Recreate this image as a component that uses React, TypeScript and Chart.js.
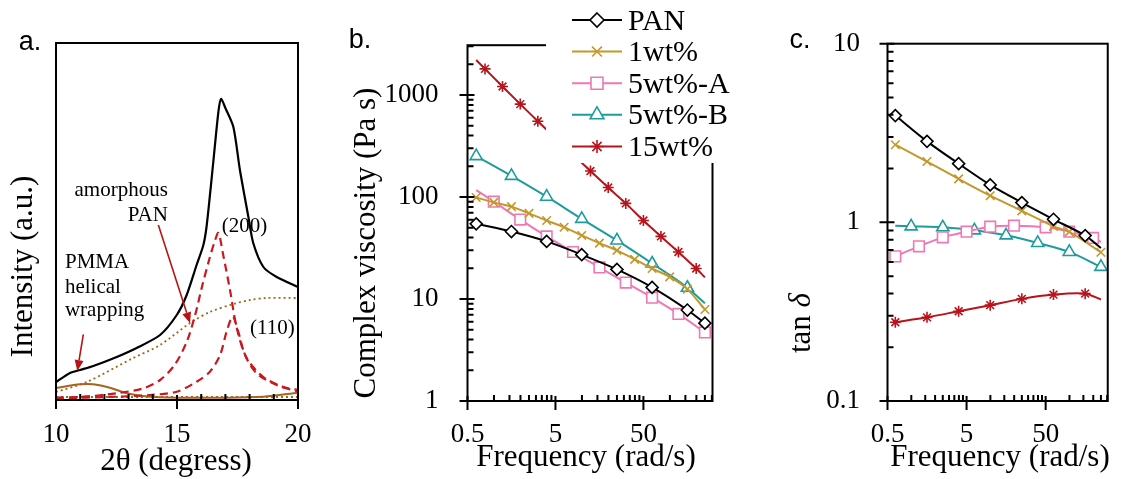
import React, { useEffect, useRef } from "react";
import { Chart, registerables } from "chart.js";

Chart.register(...registerables);

const W = 1125;
const H = 479;
const SERIF = '"Liberation Serif", "Times New Roman", serif';
const SANS = '"Liberation Sans", Arial, sans-serif';

// ================= Panel a : XRD =================
const MEAS_2THETA = [10.0, 10.58, 10.99, 11.54, 12.51, 13.33, 14.3, 14.99, 15.4, 15.81, 16.09, 16.23, 16.5, 16.71, 16.82, 17.0, 17.33, 17.6, 17.95, 18.15, 18.57, 19.12, 20.0];
const MEAS_INT = [18, 27, 30, 34, 43, 52, 65, 85, 105, 135, 155, 175, 238, 288, 301, 292, 273, 230, 183, 157, 133, 123, 113];
const AMORPH_2THETA = [10.0, 11.27, 13.19, 14.3, 15.54, 16.36, 17.33, 18.02, 18.71, 20.0];
const AMORPH_INT = [8, 18, 42, 55, 77, 88, 96, 100, 102, 102];
const BASE_2THETA = [10.0, 20.0];
const BASE_INT = [3, 3];
const PMMA_2THETA = [10.0, 11.0, 11.54, 12.23, 12.92, 13.88, 14.99, 16.78, 18.57, 20.0];
const PMMA_INT = [12, 15.7, 15.7, 12.3, 6.7, 3.3, 2.3, 2.3, 3.3, 7.3];
const P200_2THETA = [10.0, 11.13, 12.51, 13.61, 14.3, 14.9, 15.4, 15.75, 16.05, 16.35, 16.55, 16.71, 16.91, 17.19, 17.47, 17.88, 18.57, 19.4, 20.0];
const P200_INT = [2.3, 3.3, 6.7, 11.7, 20, 35, 58, 85, 115, 142, 158, 167, 145, 110, 72, 42, 23, 13, 10];
const P110_2THETA = [10.0, 12.51, 13.88, 14.99, 15.81, 16.36, 16.78, 17.05, 17.3, 17.53, 17.81, 18.29, 19.12, 20.0];
const P110_INT = [1.7, 3.3, 5, 8.3, 18.3, 28.3, 45, 68.3, 83.3, 68.3, 45, 26.7, 15, 8.3];
const XRD_TICKS = [10, 11, 12, 13, 14, 15, 16, 17, 18, 19, 20];
const XRD_MAJOR = [10, 15, 20];

// ================= Panels b / c : rheology =================
const FREQ = [0.628, 0.791, 0.995, 1.25, 1.58, 1.99, 2.5, 3.15, 3.97, 5.0, 6.28, 7.91, 9.95, 12.5, 15.8, 19.9, 25.0, 31.5, 39.7, 50.0, 62.8, 79.1, 99.5, 125, 158, 199, 250];
const _ = null;
const SERIES = ["PAN", "1wt%", "5wt%-A", "5wt%-B", "15wt%"];

// complex viscosity (Pa s)
const ETA_PAN = [54.6, _, _, _, 45.9, _, _, _, 36.7, _, _, _, 27.2, _, _, _, 19.5, _, _, _, 13.0, _, _, _, 7.8, _, 5.8];
const ETA_1WT = [99, _, 88.6, _, 80.5, _, 69.2, _, 58.8, _, 50.6, _, 42, _, 35.3, _, 30, _, 24.5, _, 19.9, _, 16.5, _, 12.5, _, 7.9];
const ETA_5WT_A = [117, _, 90, _, _, 60.1, _, _, 41.1, _, _, 28.9, _, _, 20.4, _, _, 14.5, _, _, 10.3, _, _, 7.14, _, _, 4.7];
const ETA_5WT_B = [252, _, _, _, 161, _, _, _, 100.7, _, _, _, 61.1, _, _, _, 37.5, _, _, _, 22.3, _, _, _, 12.9, _, 9.08];
const ETA_15WT = [2207, 1803, _, 1213, _, 815, _, 553, _, _, _, _, _, 180, _, 124, _, 86.6, _, 58.8, _, 41.1, _, 28.9, _, 19.9, 16.3];
const ETA_NOMARK = [[], [], [0], [26], [0, 26]];

// tan delta
const TAN_PAN = [3.96, _, _, _, 2.84, _, _, _, 2.13, _, _, _, 1.62, _, _, _, 1.29, _, _, _, 1.04, _, _, _, 0.843, _, 0.719];
const TAN_1WT = [2.72, _, _, _, 2.19, _, _, _, 1.75, _, _, _, 1.41, _, _, _, 1.16, _, _, _, 0.95, _, 0.884, _, _, _, 0.68];
const TAN_5WT_A = [0.645, _, _, 0.734, _, _, 0.824, _, _, 0.887, _, _, 0.946, _, _, 0.958, _, _, _, 0.938, _, _, 0.887, _, _, 0.818, 0.777];
const TAN_5WT_B = [0.958, _, 0.95, _, _, _, 0.938, _, _, _, 0.902, _, _, _, 0.846, _, _, _, 0.767, _, _, _, 0.683, _, _, _, 0.563];
const TAN_15WT = [0.276, _, _, _, 0.294, _, _, _, 0.318, _, _, _, 0.344, _, _, _, 0.373, _, _, _, 0.394, _, _, _, 0.399, _, 0.37];
const TAN_NOMARK = [[26], [], [26], [0], [26]];

const FREQ_TICKS = [0.5, 1, 1.5, 2, 2.5, 3, 3.5, 4, 4.5, 5, 10, 15, 20, 25, 30, 35, 40, 45, 50, 100, 150, 200, 250, 300];
const FREQ_MAJOR = [0.5, 5, 50];
const ETA_TICKS = [1, 2, 3, 4, 5, 6, 7, 8, 9, 10, 20, 30, 40, 50, 60, 70, 80, 90, 100, 200, 300, 400, 500, 600, 700, 800, 900, 1000, 2000, 3000];
const ETA_MAJOR = [1, 10, 100, 1000];
const TAN_TICKS = [0.1, 0.2, 0.3, 0.4, 0.5, 0.6, 0.7, 0.8, 0.9, 1, 2, 3, 4, 5, 6, 7, 8, 9, 10];
const TAN_MAJOR = [0.1, 1, 10];

const COLORS = ["#000000", "#C4982C", "#EE78B4", "#1E9C9C", "#B8141C"];
const STYLES = ["rectRot", "crossRot", "rect", "triangle", "star"];
const RADII = [6, 6, 7.5, 7, 5.5];

// ================= helpers =================
function pairs(xs: number[], ys: (number | null)[]) {
  const out: any[] = [];
  xs.forEach((x, i) => {
    if (ys[i] !== null && ys[i] !== undefined) out.push({ x, y: ys[i], k: i });
  });
  return out;
}

function text(ctx: CanvasRenderingContext2D, s: string, x: number, y: number, font: string, align: CanvasTextAlign = "center", baseline: CanvasTextBaseline = "middle", rot = 0, color = "#000") {
  ctx.save();
  ctx.translate(x, y);
  if (rot) ctx.rotate(rot);
  ctx.font = font;
  ctx.fillStyle = color;
  ctx.textAlign = align;
  ctx.textBaseline = baseline;
  ctx.fillText(s, 0, 0);
  ctx.restore();
}

function drawTicks(chart: any, tx: number[], mx: number[], ty: number[] | null, my: number[]) {
  const { ctx, chartArea: ca, scales } = chart;
  ctx.save();
  ctx.strokeStyle = "#000";
  ctx.lineWidth = 2;
  ctx.beginPath();
  for (const v of tx) {
    const px = scales.x.getPixelForValue(v);
    if (mx.includes(v)) {
      ctx.moveTo(px, ca.bottom - 5);
      ctx.lineTo(px, ca.bottom + 9);
    } else {
      ctx.moveTo(px, ca.bottom - 6);
      ctx.lineTo(px, ca.bottom);
    }
  }
  if (ty) {
    for (const v of ty) {
      const py = scales.y.getPixelForValue(v);
      if (my.includes(v)) {
        ctx.moveTo(ca.left - 8, py);
        ctx.lineTo(ca.left + 7, py);
      } else {
        ctx.moveTo(ca.left, py);
        ctx.lineTo(ca.left + 6, py);
      }
    }
  }
  ctx.stroke();
  ctx.restore();
}

function drawFrame(chart: any) {
  const { ctx, chartArea: ca } = chart;
  ctx.save();
  ctx.strokeStyle = "#000";
  ctx.lineWidth = 2;
  ctx.strokeRect(ca.left, ca.top, ca.right - ca.left, ca.bottom - ca.top);
  ctx.restore();
}

function drawMarker(ctx: CanvasRenderingContext2D, style: string, x: number, y: number, r: number, color: string) {
  ctx.save();
  ctx.strokeStyle = color;
  ctx.fillStyle = "#fff";
  ctx.lineWidth = 1.6;
  ctx.beginPath();
  if (style === "rectRot") {
    ctx.moveTo(x, y - r); ctx.lineTo(x + r, y); ctx.lineTo(x, y + r); ctx.lineTo(x - r, y); ctx.closePath();
    ctx.fill(); ctx.stroke();
  } else if (style === "rect") {
    const s = r * Math.SQRT1_2;
    ctx.rect(x - s, y - s, 2 * s, 2 * s); ctx.fill(); ctx.stroke();
  } else if (style === "triangle") {
    for (let i = 0; i < 3; i++) {
      const a = (i * 2 * Math.PI) / 3;
      const px = x + Math.sin(a) * r, py = y - Math.cos(a) * r;
      if (i === 0) ctx.moveTo(px, py); else ctx.lineTo(px, py);
    }
    ctx.closePath(); ctx.fill(); ctx.stroke();
  } else if (style === "crossRot") {
    const d = r * Math.SQRT1_2;
    ctx.moveTo(x - d, y - d); ctx.lineTo(x + d, y + d); ctx.moveTo(x + d, y - d); ctx.lineTo(x - d, y + d); ctx.stroke();
  } else if (style === "star") {
    const d = r * Math.SQRT1_2;
    ctx.moveTo(x - d, y - d); ctx.lineTo(x + d, y + d); ctx.moveTo(x + d, y - d); ctx.lineTo(x - d, y + d);
    ctx.moveTo(x, y - r); ctx.lineTo(x, y + r); ctx.moveTo(x - r, y); ctx.lineTo(x + r, y); ctx.stroke();
  }
  ctx.restore();
}

function arrow(ctx: CanvasRenderingContext2D, x1: number, y1: number, x2: number, y2: number, color: string) {
  const ang = Math.atan2(y2 - y1, x2 - x1);
  const hl = 11, hw = 4.5;
  const bx = x2 - Math.cos(ang) * hl, by = y2 - Math.sin(ang) * hl;
  ctx.save();
  ctx.strokeStyle = color;
  ctx.fillStyle = color;
  ctx.lineWidth = 1.6;
  ctx.beginPath(); ctx.moveTo(x1, y1); ctx.lineTo(bx, by); ctx.stroke();
  ctx.beginPath();
  ctx.moveTo(x2, y2);
  ctx.lineTo(bx + Math.sin(ang) * hw, by - Math.cos(ang) * hw);
  ctx.lineTo(bx - Math.sin(ang) * hw, by + Math.cos(ang) * hw);
  ctx.closePath(); ctx.fill();
  ctx.restore();
}

const tickFont = { family: SERIF, size: 27 };
const Y_AXIS_W = 140;

function xLogScale() {
  return {
    type: "logarithmic", position: "bottom", min: 0.5, max: 305,
    afterBuildTicks: (s: any) => { s.ticks = FREQ_TICKS.map((v) => ({ value: v })); },
    afterFit: (s: any) => { s.height = 78; },
    grid: { display: false, drawTicks: false },
    border: { display: false },
    ticks: { autoSkip: false, maxRotation: 0, minRotation: 0, padding: 17.8, color: "#000", font: tickFont,
      callback: (v: any) => (FREQ_MAJOR.includes(Number(v)) ? String(v) : "") },
  };
}

function yLogScale(min: number, max: number, list: number[], major: number[], pad: number) {
  return {
    type: "logarithmic", position: "left", min, max,
    afterBuildTicks: (s: any) => { s.ticks = list.map((v) => ({ value: v })); },
    afterFit: (s: any) => { s.width = Y_AXIS_W; },
    grid: { display: false, drawTicks: false },
    border: { display: false },
    ticks: { autoSkip: false, padding: pad, color: "#000", font: tickFont,
      callback: (v: any) => (major.includes(Number(v)) ? String(v) : "") },
  };
}

function rheoDatasets(arrs: (number | null)[][], nomark: number[][], tension: number, mono: boolean) {
  return arrs.map((arr, i) => ({
    label: SERIES[i],
    data: pairs(FREQ, arr),
    borderColor: COLORS[i],
    borderWidth: 2,
    backgroundColor: "#fff",
    pointStyle: STYLES[i],
    pointBorderColor: COLORS[i],
    pointBackgroundColor: "#fff",
    pointBorderWidth: 1.6,
    pointRadius: (c: any) => (c.raw && nomark[i].includes(c.raw.k) ? 0 : RADII[i]),
    tension,
    cubicInterpolationMode: mono ? "monotone" : "default",
    spanGaps: true,
    fill: false,
  }));
}

function cfgA(): any {
  return {
    type: "line",
    data: {
      datasets: [
        { data: pairs(MEAS_2THETA, MEAS_INT), borderColor: "#000", borderWidth: 2.2, pointRadius: 0, tension: 0.25 },
        { data: pairs(P200_2THETA, P200_INT), borderColor: "#C8191E", borderWidth: 2.2, borderDash: [8, 5], pointRadius: 0, tension: 0.3 },
        { data: pairs(P110_2THETA, P110_INT), borderColor: "#C8191E", borderWidth: 2.2, borderDash: [8, 5], pointRadius: 0, tension: 0.3 },
        { data: pairs(AMORPH_2THETA, AMORPH_INT), borderColor: "#A8641E", borderWidth: 1.8, borderDash: [2, 3], pointRadius: 0, tension: 0.3 },
        { data: pairs(BASE_2THETA, BASE_INT), borderColor: "#A8641E", borderWidth: 1.8, borderDash: [2, 3], pointRadius: 0 },
        { data: pairs(PMMA_2THETA, PMMA_INT), borderColor: "#A8641E", borderWidth: 2, pointRadius: 0, tension: 0.3 },
      ],
    },
    options: {
      responsive: false, animation: false, events: [],
      layout: { padding: { left: 0, right: W - 298, top: 43, bottom: 0 } },
      plugins: { legend: { display: false }, tooltip: { enabled: false } },
      scales: {
        x: {
          type: "linear", min: 10, max: 20,
          afterBuildTicks: (s: any) => { s.ticks = XRD_TICKS.map((v) => ({ value: v })); },
          afterFit: (s: any) => { s.height = 79; },
          grid: { display: false, drawTicks: false }, border: { display: false },
          ticks: { autoSkip: false, maxRotation: 0, padding: 18.8, color: "#000", font: tickFont,
            callback: (v: any) => (XRD_MAJOR.includes(Number(v)) ? String(v) : "") },
        },
        y: {
          type: "linear", min: 0, max: 357,
          afterFit: (s: any) => { s.width = 56; },
          grid: { display: false, drawTicks: false }, border: { display: false },
          ticks: { display: false },
        },
      },
    },
    plugins: [{
      id: "decorA",
      afterDraw(chart: any) {
        const { ctx, scales } = chart;
        const X = (v: number) => scales.x.getPixelForValue(v);
        const Y = (v: number) => scales.y.getPixelForValue(v);
        drawTicks(chart, XRD_TICKS, XRD_MAJOR, null, []);
        drawFrame(chart);
        const af = `21px ${SERIF}`;
        text(ctx, "amorphous", X(14.62), Y(204), af, "right", "alphabetic");
        text(ctx, "PAN", X(14.62), Y(179), af, "right", "alphabetic");
        text(ctx, "(200)", X(16.85), Y(168.3), af, "left", "alphabetic");
        text(ctx, "(110)", X(18.02), Y(66), af, "left", "alphabetic");
        text(ctx, "PMMA", X(10.37), Y(131.7), af, "left", "alphabetic");
        text(ctx, "helical", X(10.37), Y(106.7), af, "left", "alphabetic");
        text(ctx, "wrapping", X(10.37), Y(84.3), af, "left", "alphabetic");
        arrow(ctx, X(14.23), Y(175), X(15.54), Y(76.7), "#B51515");
        arrow(ctx, X(11.13), Y(65.7), X(10.88), Y(29), "#B51515");
        text(ctx, "Intensity (a.u.)", 24, 266.5, `31px ${SERIF}`, "center", "middle", -Math.PI / 2);
        text(ctx, "2θ (degress)", 176, 462, `31px ${SERIF}`);
        text(ctx, "a.", 30, 43, `27px ${SANS}`);
      },
    }],
  };
}

function cfgB(): any {
  return {
    type: "line",
    data: { datasets: rheoDatasets([ETA_PAN, ETA_1WT, ETA_5WT_A, ETA_5WT_B, ETA_15WT], ETA_NOMARK, 0.3, true) },
    options: {
      responsive: false, animation: false, events: [],
      layout: { padding: { left: 467.5 - Y_AXIS_W, right: W - 712.5, top: 43, bottom: 0 } },
      plugins: { legend: { display: false }, tooltip: { enabled: false } },
      scales: { x: xLogScale(), y: yLogScale(1, 3080, ETA_TICKS, ETA_MAJOR, 29) },
    },
    plugins: [{
      id: "decorB",
      afterDraw(chart: any) {
        const { ctx } = chart;
        drawTicks(chart, FREQ_TICKS, FREQ_MAJOR, ETA_TICKS, ETA_MAJOR);
        drawFrame(chart);
        // legend box over the top-right corner
        ctx.save();
        ctx.fillStyle = "#fff";
        ctx.fillRect(546, 0, 200, 163);
        ctx.restore();
        const rows = [20, 51.6, 83.2, 114.8, 146.5];
        SERIES.forEach((name, i) => {
          const y = rows[i];
          ctx.save();
          ctx.strokeStyle = COLORS[i];
          ctx.lineWidth = 2;
          ctx.beginPath(); ctx.moveTo(572, y); ctx.lineTo(622, y); ctx.stroke();
          ctx.restore();
          drawMarker(ctx, STYLES[i], 597, y, RADII[i] + 1, COLORS[i]);
          text(ctx, name, 628, y + 9.5, `30px ${SERIF}`, "left", "alphabetic");
        });
        text(ctx, "Complex viscosity (Pa s)", 366.5, 243, `31px ${SERIF}`, "center", "middle", -Math.PI / 2);
        text(ctx, "Frequency (rad/s)", 586, 458, `31px ${SERIF}`);
        text(ctx, "b.", 360, 41, `27px ${SANS}`);
      },
    }],
  };
}

function cfgC(): any {
  return {
    type: "line",
    data: { datasets: rheoDatasets([TAN_PAN, TAN_1WT, TAN_5WT_A, TAN_5WT_B, TAN_15WT], TAN_NOMARK, 0.3, false) },
    options: {
      responsive: false, animation: false, events: [],
      layout: { padding: { left: 887.5 - Y_AXIS_W, right: 3, top: 43, bottom: 0 } },
      plugins: { legend: { display: false }, tooltip: { enabled: false } },
      scales: { x: xLogScale(), y: yLogScale(0.1, 10, TAN_TICKS, TAN_MAJOR, 27.5) },
    },
    plugins: [{
      id: "decorC",
      afterDraw(chart: any) {
        const { ctx } = chart;
        drawTicks(chart, FREQ_TICKS, FREQ_MAJOR, TAN_TICKS, TAN_MAJOR);
        drawFrame(chart);
        // "tan δ" rotated, δ in italics
        ctx.save();
        ctx.translate(802, 323);
        ctx.rotate(-Math.PI / 2);
        ctx.fillStyle = "#000";
        ctx.textBaseline = "middle";
        ctx.textAlign = "left";
        ctx.font = `31px ${SERIF}`;
        const w1 = ctx.measureText("tan ").width;
        ctx.font = `italic 31px ${SERIF}`;
        const w2 = ctx.measureText("δ").width;
        const x0 = -(w1 + w2) / 2;
        ctx.font = `31px ${SERIF}`;
        ctx.fillText("tan ", x0, 0);
        ctx.font = `italic 31px ${SERIF}`;
        ctx.fillText("δ", x0 + w1, 0);
        ctx.restore();
        text(ctx, "Frequency (rad/s)", 1000, 458, `31px ${SERIF}`);
        text(ctx, "c.", 800, 41, `27px ${SANS}`);
      },
    }],
  };
}

export default function App() {
  const refA = useRef<HTMLCanvasElement>(null);
  const refB = useRef<HTMLCanvasElement>(null);
  const refC = useRef<HTMLCanvasElement>(null);

  useEffect(() => {
    const charts = [
      new Chart(refA.current as HTMLCanvasElement, cfgA()),
      new Chart(refB.current as HTMLCanvasElement, cfgB()),
      new Chart(refC.current as HTMLCanvasElement, cfgC()),
    ];
    return () => charts.forEach((c) => c.destroy());
  }, []);

  const cs: React.CSSProperties = { position: "absolute", left: 0, top: 0, width: W, height: H };
  return (
    <div style={{ position: "fixed", left: 0, top: 0, width: W, height: H, background: "#fff", overflow: "hidden" }}>
      <canvas ref={refA} width={W} height={H} style={cs} />
      <canvas ref={refB} width={W} height={H} style={cs} />
      <canvas ref={refC} width={W} height={H} style={cs} />
    </div>
  );
}
